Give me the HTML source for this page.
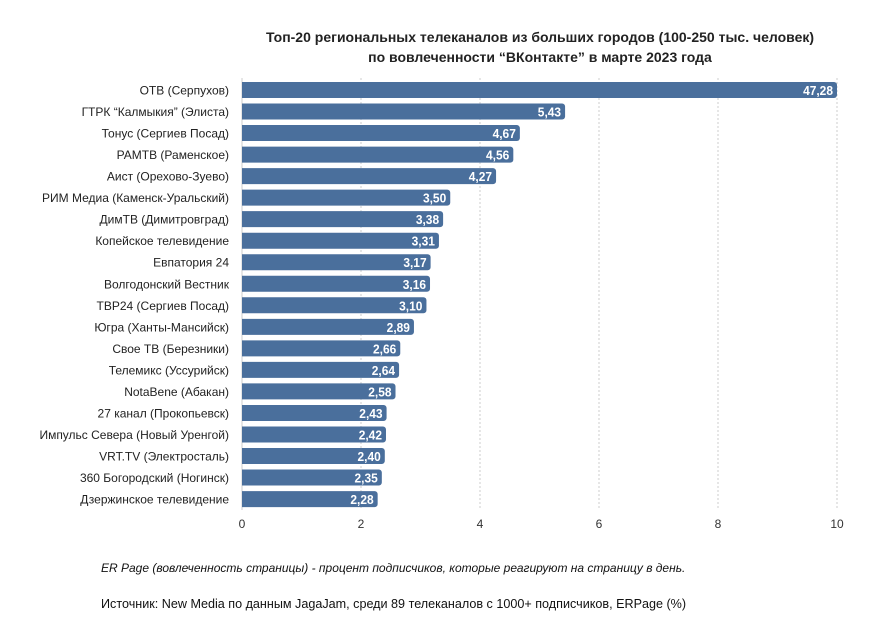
<!DOCTYPE html>
<html><head><meta charset="utf-8"><style>
body{margin:0;background:#fff;font-family:"Liberation Sans",sans-serif;}
</style></head><body>
<svg id="chart" width="879" height="632" xmlns="http://www.w3.org/2000/svg" font-family="Liberation Sans, sans-serif">
<text x="540" y="42" text-anchor="middle" font-size="14" font-weight="bold" fill="#222">Топ-20 региональных телеканалов из больших городов (100-250 тыс. человек)</text>
<text x="540" y="62" text-anchor="middle" font-size="14" font-weight="bold" fill="#222">по вовлеченности “ВКонтакте” в марте 2023 года</text>
<g id="grid"></g><g id="bars"></g><g id="xticks"></g>
<text x="101" y="572" font-size="12" font-style="italic" fill="#111">ER Page (вовлеченность страницы) - процент подписчиков, которые реагируют на страницу в день.</text>
<text x="101" y="608" font-size="12.6" fill="#111">Источник: New Media по данным JagaJam, среди 89 телеканалов с 1000+ подписчиков, ERPage (%)</text>
</svg>
<script>
const categories=["ОТВ (Серпухов)","ГТРК “Калмыкия” (Элиста)","Тонус (Сергиев Посад)","РАМТВ (Раменское)","Аист (Орехово-Зуево)","РИМ Медиа (Каменск-Уральский)","ДимТВ (Димитровград)","Копейское телевидение","Евпатория 24","Волгодонский Вестник","ТВР24 (Сергиев Посад)","Югра (Ханты-Мансийск)","Свое ТВ (Березники)","Телемикс (Уссурийск)","NotaBene (Абакан)","27 канал (Прокопьевск)","Импульс Севера (Новый Уренгой)","VRT.TV (Электросталь)","360 Богородский (Ногинск)","Дзержинское телевидение"];
const values=[47.28,5.43,4.67,4.56,4.27,3.50,3.38,3.31,3.17,3.16,3.10,2.89,2.66,2.64,2.58,2.43,2.42,2.40,2.35,2.28];
const ticks=[0,2,4,6,8,10];
const NS="http://www.w3.org/2000/svg";
const x0=242,x1=837,xmax=10,y0=90,step=21.53,bh=16;
const xs=v=>x0+Math.min(v,xmax)/xmax*(x1-x0);
const ys=i=>y0+i*step;
function mk(t,a,p){const e=document.createElementNS(NS,t);for(const k in a)e.setAttribute(k,a[k]);p.appendChild(e);return e;}
const grid=document.getElementById('grid'),bars=document.getElementById('bars'),xt=document.getElementById('xticks');
ticks.forEach(t=>{
 const l=mk('line',{x1:xs(t),x2:xs(t),y1:78,y2:510,stroke:'#ccc','stroke-dasharray':t===0?'':'2,2','stroke-width':1},grid);
 
 
 const tx=mk('text',{x:xs(t),y:528,'text-anchor':'middle','font-size':12,fill:'#333'},xt);
 tx.textContent=t;
 
 
});
categories.forEach((c,i)=>{
 const y=ys(i),w=xs(values[i])-x0;
 const lb=mk('text',{x:229,y:y+4.5,'text-anchor':'end','font-size':12,fill:'#222'},bars);
 lb.textContent=c;
 
 
 const r=mk('path',{d:`M${x0},${y-bh/2}h${w-3}a3,3 0 0 1 3,3v${bh-6}a3,3 0 0 1 -3,3h${-(w-3)}z`,fill:'#4a6f9c'},bars);
 
 
 const v=mk('text',{x:x0+w-4,y:y+5,'text-anchor':'end','font-size':13,'font-weight':'bold',fill:'#fff',transform:`translate(${(x0+w-4)*0.08},0) scale(0.92,1)`},bars);
 v.textContent=values[i].toFixed(2).replace('.',',');
 
 
});
</script>
</body></html>
